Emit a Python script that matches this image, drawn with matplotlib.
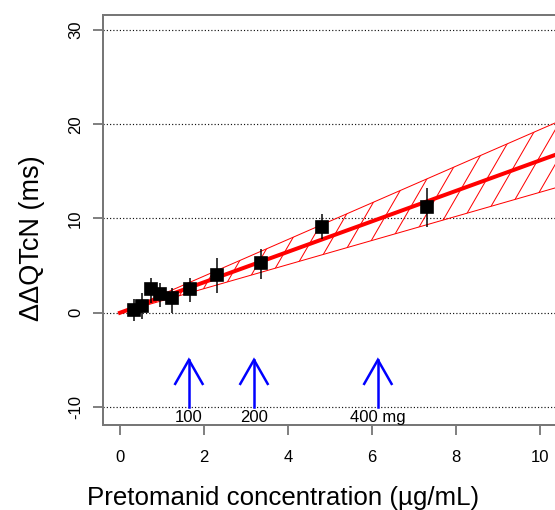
import numpy as np
import matplotlib
matplotlib.use("Agg")
import matplotlib.pyplot as plt
from matplotlib.patches import Polygon
from matplotlib.collections import LineCollection

plt.rcParams["font.family"] = ["Liberation Sans", "DejaVu Sans"]

# ----------------------------
# Data
# ----------------------------
conc = [0.33, 0.53, 0.73, 0.96, 1.24, 1.66, 2.32, 3.36, 4.82, 7.32]
ddqtc = [0.29, 0.72, 2.52, 1.96, 1.60, 2.49, 3.97, 5.25, 9.13, 11.19]
ci_low = [-0.84, -0.69, 1.00, 0.64, 0.00, 1.17, 2.13, 3.55, 7.79, 9.13]
ci_high = [1.43, 2.06, 3.66, 3.19, 2.59, 3.66, 5.78, 6.73, 10.48, 13.24]

fit_x = [0, 11]
fit_mid = [0, 17.78]
fit_low = [0, 14.06]
fit_high = [0, 21.38]

dose_conc = [1.64, 3.19, 6.14]
dose_labels = ["100", "200", "400 mg"]

yticks = [-10, 0, 10, 20, 30]
xticks = [0, 2, 4, 6, 8, 10]

# ----------------------------
# Figure
# ----------------------------
DPI = 120
PX_X = 42.0     # pixels per x unit
PX_Y = 9.425    # pixels per y unit
fig = plt.figure(figsize=(555 / DPI, 510 / DPI), dpi=DPI)
ax = fig.add_axes([103 / 555, 1 - 425 / 510, 474.8 / 555, 410 / 510])
ax.set_xlim(-0.405, 10.9)
ax.set_ylim(-11.91, 31.59)

for y in yticks:
    ax.axhline(y, color="#111111", lw=0.7, ls=(0, (1, 1.8)), zorder=1)

# confidence band, hatched with steep red lines (clipped to the band)
verts = list(zip(fit_x, fit_low)) + list(zip(fit_x[::-1], fit_high[::-1]))
band = Polygon(verts, closed=True, fc="none", ec="none")
ax.add_patch(band)
slope = np.tan(np.radians(60)) * PX_X / PX_Y   # data units
step = 20 / PX_X
y0, y1 = -15, 35
segs = [[(x0, y0), (x0 + (y1 - y0) / slope, y1)]
        for x0 in np.arange(-6, 12, step)]
hatch = LineCollection(segs, colors="red", linewidths=0.6, zorder=2)
ax.add_collection(hatch)
hatch.set_clip_path(band)

ax.plot(fit_x, fit_low, color="red", lw=0.6, zorder=3)
ax.plot(fit_x, fit_high, color="red", lw=0.6, zorder=3)
ax.plot(fit_x, fit_mid, color="red", lw=2.4, zorder=3)

# observed means with CIs
ax.vlines(conc, ci_low, ci_high, color="black", lw=0.9, zorder=4)
ax.plot(conc, ddqtc, "s", color="black", ms=7.4, zorder=5)

# dose arrows
hx = 13.7 / PX_X
hy = 24 / PX_Y
for x, lab in zip(dose_conc, dose_labels):
    ax.plot([x, x], [-10, -5], color="blue", lw=1.5, zorder=4)
    ax.plot([x - hx, x, x + hx], [-5 - hy, -5, -5 - hy], color="blue", lw=1.5,
            zorder=4, solid_joinstyle="miter")
    ax.text(x, -11.15, lab, ha="center", va="center", fontsize=10, zorder=6)

ax.set_xticks(xticks)
ax.set_yticks(yticks)
ax.set_yticklabels([str(v) for v in yticks], rotation=90, va="center")
ax.tick_params(axis="both", direction="out", length=6, width=1.1,
               color="#777777", labelsize=10)
ax.tick_params(axis="y", pad=6)
ax.tick_params(axis="x", pad=9)
for s in ax.spines.values():
    s.set_color("#777777")
    s.set_linewidth(1.2)

fig.text(283 / 555, 1 - 505 / 510, "Pretomanid concentration (µg/mL)",
         ha="center", va="baseline", fontsize=15.5)
fig.text(32 / 555, 1 - 238 / 510, "ΔΔQTcN (ms)", rotation=90,
         ha="center", va="center", fontsize=16.3)

fig.savefig("out.png", dpi=DPI)
